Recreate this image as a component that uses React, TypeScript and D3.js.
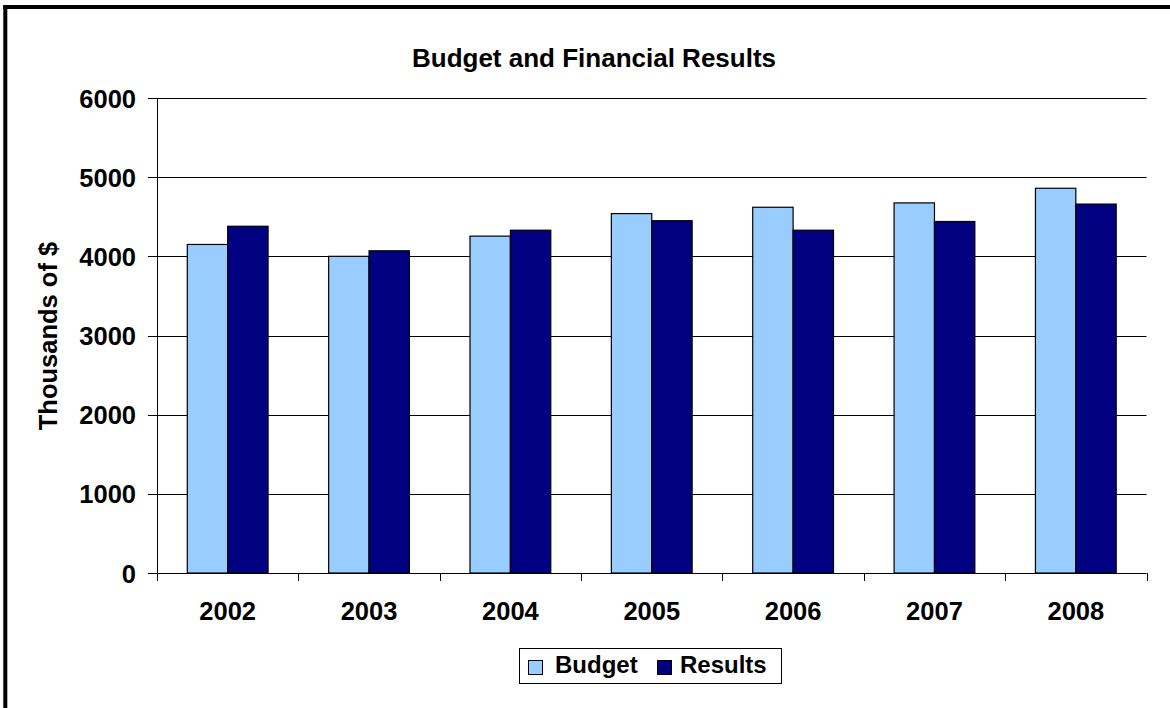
import React from "react";
import * as d3 from "d3";

const years = ["2002", "2003", "2004", "2005", "2006", "2007", "2008"];
const budget = [4150, 4000, 4255, 4540, 4620, 4675, 4860];
const results = [4380, 4070, 4330, 4450, 4330, 4440, 4660];
const yTicks = [0, 1000, 2000, 3000, 4000, 5000, 6000];
const seriesNames = ["Budget", "Results"];
const seriesColors = ["#99CCFF", "#000080"];

const W = 1170;
const H = 708;
const left = 157;
const right = 1146.5;
const top = 98;
const bottom = 573;
const font = "'Liberation Sans', Arial, sans-serif";

export default function App() {
  const x = d3.scaleBand<string>().domain(years).range([left, right]).paddingInner(0).paddingOuter(0);
  const y = d3.scaleLinear().domain([0, 6000]).range([bottom, top]);
  const bw = x.bandwidth() / 3.5;
  const series = [budget, results];

  return (
    <div style={{ position: "fixed", left: 0, top: 0 }}>
      <svg width={W} height={H} style={{ display: "block", background: "#fff" }} fontFamily={font}>
        <rect x={0} y={0} width={W} height={H} fill="#fff" />
        {/* frame */}
        <line x1={5.3} y1={5} x2={5.3} y2={H} stroke="#000" strokeWidth={4} />
        <line x1={3.3} y1={7} x2={W} y2={7} stroke="#000" strokeWidth={4} />
        {/* title */}
        <text x={594} y={67} textAnchor="middle" fontSize={26} fontWeight="bold">
          Budget and Financial Results
        </text>
        {/* gridlines */}
        {yTicks.map((t) => (
          <g key={t}>
            <line x1={148} x2={t === 0 ? left : right} y1={Math.round(y(t)) + 0.5} y2={Math.round(y(t)) + 0.5} stroke="#000" strokeWidth={1} />
            <text x={136} y={y(t) + 9.5} textAnchor="end" fontSize={25.5} fontWeight="bold">
              {t}
            </text>
          </g>
        ))}
        {/* bars */}
        {years.map((yr, i) => (
          <g key={yr}>
            {series.map((s, j) => {
              const bx = (x(yr) as number) + x.bandwidth() / 2 - bw + j * bw;
              return (
                <rect
                  key={j}
                  x={bx}
                  y={y(s[i])}
                  width={bw}
                  height={bottom - y(s[i])}
                  fill={seriesColors[j]}
                  stroke="#000"
                  strokeWidth={1.2}
                />
              );
            })}
          </g>
        ))}
        {/* axes */}
        <line x1={left + 0.5} x2={left + 0.5} y1={top} y2={bottom} stroke="#000" strokeWidth={1} />
        <line x1={left} x2={right} y1={bottom + 0.5} y2={bottom + 0.5} stroke="#000" strokeWidth={1} />
        {years.concat(["end"]).map((_, i) => {
          const xx = left + i * x.step();
          return <line key={i} x1={Math.round(xx) + 0.5} x2={Math.round(xx) + 0.5} y1={bottom} y2={bottom + 8} stroke="#000" strokeWidth={1} />;
        })}
        {years.map((yr) => (
          <text key={yr} x={(x(yr) as number) + x.bandwidth() / 2} y={620} textAnchor="middle" fontSize={25.5} fontWeight="bold">
            {yr}
          </text>
        ))}
        {/* y label */}
        <text transform={`translate(57,336) rotate(-90)`} textAnchor="middle" fontSize={25.5} fontWeight="bold">
          Thousands of $
        </text>
        {/* legend */}
        <rect x={519.5} y={648.5} width={262} height={35} fill="#fff" stroke="#000" strokeWidth={1} />
        {seriesNames.map((n, j) => {
          const lx = j === 0 ? 528 : 657;
          const tx = j === 0 ? 555 : 680;
          return (
            <g key={n}>
              <rect x={lx + 0.5} y={660.5} width={14} height={14} fill={seriesColors[j]} stroke="#000" strokeWidth={1} />
              <text x={tx} y={673} fontSize={24} fontWeight="bold">
                {n}
              </text>
            </g>
          );
        })}
      </svg>
    </div>
  );
}
